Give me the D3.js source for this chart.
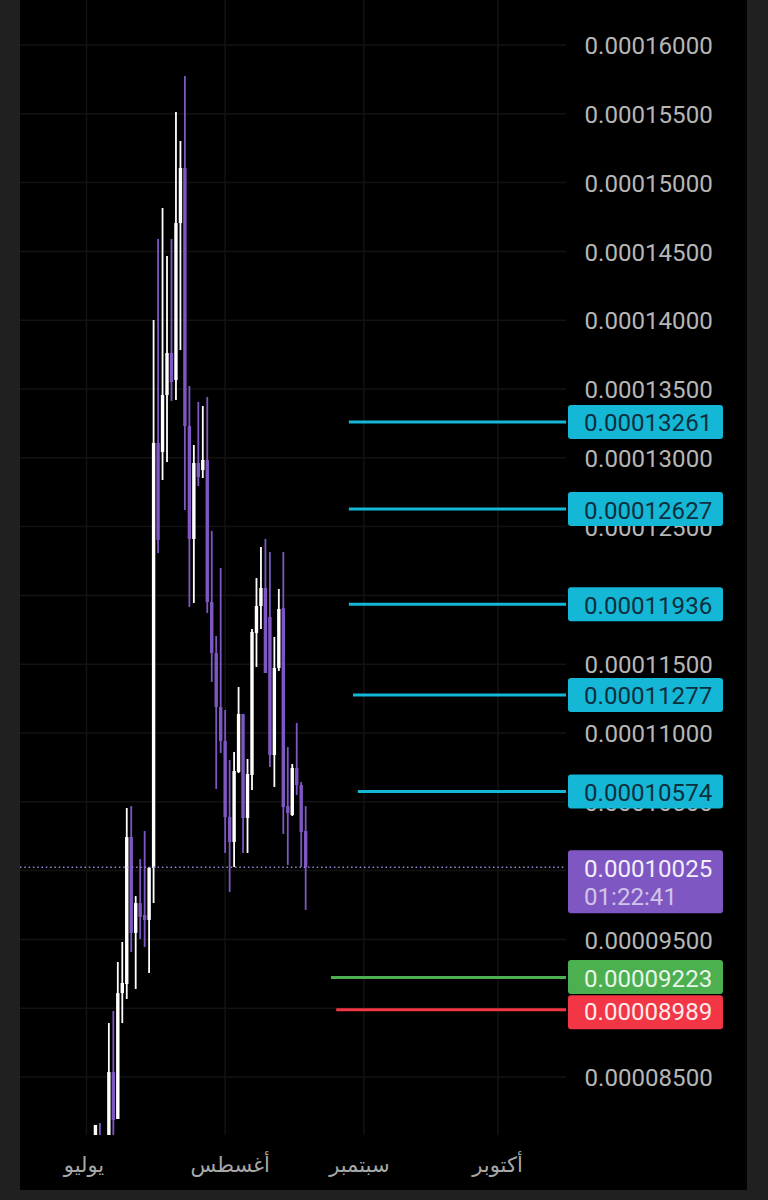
<!DOCTYPE html>
<html lang="ar">
<head>
<meta charset="utf-8">
<script src="https://d3js.org/d3.v7.min.js"></script>
<style>
html,body{margin:0;padding:0;background:#202020;}
svg{display:block;}
.price{font-family:Roboto,sans-serif;font-size:24.1px;}
.month{font-family:"DejaVu Sans",sans-serif;font-size:21px;}
</style>
</head>
<body>
<svg id="chart" width="768" height="1200"></svg>
<script>
// Prices are in units of 1e-8
const startDates = ["2024-07-03","2024-07-04"];
const runStart = "2024-07-06";
const opens  = [7950,8050,7980,8536,8195,9110,9176,10244,9547,9764,9677,9641,10019,13108,13042,13456,13762,13565,14706,15106,13231,12410,12962,12911,12984,11952,11581,11189,10942,10389,10208,10717,11138,10382,10695,11727,11923,12054,11843,10840,11472,11908,10469,10404,10746,10622,10288];
const highs  = [8151,8166,8892,8980,9336,9481,10455,10469,9815,10084,10288,10026,14001,14590,14815,14467,14590,15513,15302,15775,13522,13093,13406,13376,13442,12468,11705,12199,11167,10804,10862,11334,11138,10811,11756,12126,12352,12410,12315,11698,12047,12315,10898,10775,11073,10644,10469];
const lows   = [7900,7900,7900,7950,8195,8892,9067,9408,9140,9503,9445,9256,9764,12308,12839,12969,13413,13420,13783,12621,11916,11945,12795,12853,11872,11371,10593,10855,10128,9844,10026,10709,10128,10128,10586,11480,11756,11436,10753,10608,11451,10266,10041,10397,10549,10026,9714];
const closes = [8151,7980,8536,8187,9110,9183,10244,9547,9764,9663,9641,10019,13108,12403,13456,13762,13551,14706,15106,13231,12410,12962,12860,12984,11952,11581,11189,10942,10389,10208,10724,11138,10382,10702,11734,11923,12054,11436,10840,11472,11901,10462,10419,10746,10622,10280,10025];

const axisPrices = [16000,15500,15000,14500,14000,13500,13000,12500,12000,11500,11000,10500,10000,9500,9000,8500];
const monthDates = ["2024-07-01","2024-08-01","2024-09-01","2024-10-01"];
const monthLabels = ["يوليو","أغسطس","سبتمبر","أكتوبر"];

const targetPrices = [13261,12627,11936,11277,10574];
const targetStartDates = ["2024-08-28T16:00","2024-08-28T16:00","2024-08-28T16:00","2024-08-29T14:00","2024-08-30T16:00"];
const entryPrice = 9223, entryStartDate = "2024-08-24T16:00";
const stopPrice = 8989, stopStartDate = "2024-08-25T20:00";
const lastPrice = 10025, countdown = "01:22:41";

const COL = {up:"#ffffff",down:"#7e57c2",cyan:"#14b8d6",cyanText:"#0d2f3f",green:"#4caf50",red:"#f23645",grid:"#131313",axis:"#b6b6b6",month:"#a8a8a8",dot:"#9a84d4"};
const parse = d3.utcParse("%Y-%m-%d");
const parseH = d3.utcParse("%Y-%m-%dT%H:%M");
const fmt = v => (v/1e8).toFixed(8);

const dates = [...startDates.map(parse)];
const first = parse(runStart);
for(let i=0;i<opens.length-startDates.length;i++) dates.push(d3.utcDay.offset(first,i));
const candles = dates.map((d,i)=>({d,o:opens[i],h:highs[i],l:lows[i],c:closes[i]}));

const svg = d3.select("#chart");
const P = {l:20,r:747,t:0,b:1190,plotB:1135,axisX:566};
const x = d3.scaleUtc().domain([parse("2024-07-01"),parse("2024-10-01")]).range([86.5,498]);
const y = d3.scaleLinear().domain([8500,16000]).range([1077,45]);

svg.append("rect").attr("x",P.l).attr("y",P.t).attr("width",P.r-P.l).attr("height",P.b-P.t).attr("fill","#000");
svg.append("defs").append("clipPath").attr("id","plot").append("rect").attr("x",P.l).attr("y",0).attr("width",P.axisX-P.l).attr("height",P.plotB);

// Grid
svg.append("g").selectAll("line").data(axisPrices).join("line")
  .attr("x1",P.l).attr("x2",P.axisX).attr("y1",d=>y(d)).attr("y2",d=>y(d)).attr("stroke",COL.grid).attr("stroke-width",1.5);
svg.append("g").selectAll("line").data(monthDates.map(parse)).join("line")
  .attr("x1",d=>x(d)).attr("x2",d=>x(d)).attr("y1",0).attr("y2",P.plotB).attr("stroke",COL.grid).attr("stroke-width",1.5);

// Axes
const yAxis = d3.axisRight(y).tickValues(axisPrices).tickFormat(fmt).tickSize(0).tickPadding(0);
const ya = svg.append("g").attr("transform","translate(584.5,0)").call(yAxis);
ya.select(".domain").remove();
ya.selectAll("text").attr("class","price").attr("fill",COL.axis).attr("dy","0.36em");

const xAxis = d3.axisBottom(x).tickValues(monthDates.map(parse)).tickFormat((d,i)=>monthLabels[i]).tickSize(0).tickPadding(0);
const xa = svg.append("g").attr("transform","translate(0,1157)").call(xAxis);
xa.select(".domain").remove();
const labelShift = [-3,4.5,-5,-1];
xa.selectAll("text").attr("class","month").attr("fill",COL.month).attr("direction","rtl").attr("dx",(d,i)=>labelShift[i]);

// Candles
const cg = svg.append("g").attr("clip-path","url(#plot)");
const g = cg.selectAll("g").data(candles).join("g");
g.append("line").attr("x1",d=>x(d.d)).attr("x2",d=>x(d.d)).attr("y1",d=>y(d.h)).attr("y2",d=>y(d.l))
  .attr("stroke",d=>d.c>=d.o?COL.up:COL.down).attr("stroke-width",1.8);
g.append("rect").attr("x",d=>x(d.d)-1.7).attr("width",3.4)
  .attr("y",d=>y(Math.max(d.o,d.c))).attr("height",d=>Math.abs(y(d.o)-y(d.c)))
  .attr("fill",d=>d.c>=d.o?COL.up:COL.down);

// Last price line
svg.append("line").attr("x1",P.l).attr("x2",P.axisX).attr("y1",y(lastPrice)).attr("y2",y(lastPrice))
  .attr("stroke",COL.dot).attr("stroke-width",1.5).attr("stroke-dasharray","1.5 2.8");

// Order lines + tags (the lowest tag is nudged down so it clears the one above)
const orders = [
  ...targetPrices.map((p,i)=>({p,start:targetStartDates[i],c:COL.cyan,t:COL.cyanText,nudge:0})),
  {p:entryPrice,start:entryStartDate,c:COL.green,t:"#e8f5e9",nudge:-0.5},
  {p:stopPrice,start:stopStartDate,c:COL.red,t:"#fdeaec",nudge:2.5}
];
const og = svg.append("g").selectAll("g").data(orders).join("g");
og.append("line").attr("x1",d=>x(parseH(d.start))).attr("x2",P.axisX).attr("y1",d=>y(d.p)).attr("y2",d=>y(d.p))
  .attr("stroke",d=>d.c).attr("stroke-width",3);
og.append("rect").attr("x",568).attr("width",155).attr("y",d=>y(d.p)-17+d.nudge).attr("height",34).attr("rx",3).attr("fill",d=>d.c);
og.append("text").attr("class","price").attr("x",584).attr("y",d=>y(d.p)+9.5+d.nudge/2).attr("fill",d=>d.t).text(d=>fmt(d.p));

// Last price tag
const ly = y(lastPrice);
svg.append("rect").attr("x",568).attr("y",ly-17).attr("width",155).attr("height",63).attr("rx",3).attr("fill",COL.down);
svg.append("text").attr("class","price").attr("x",584).attr("y",ly+9.5).attr("fill","#f3eefb").text(fmt(lastPrice));
svg.append("text").attr("class","price").attr("x",584).attr("y",ly+37.5).attr("fill","#d1c4e9").text(countdown);
</script>
</body>
</html>
